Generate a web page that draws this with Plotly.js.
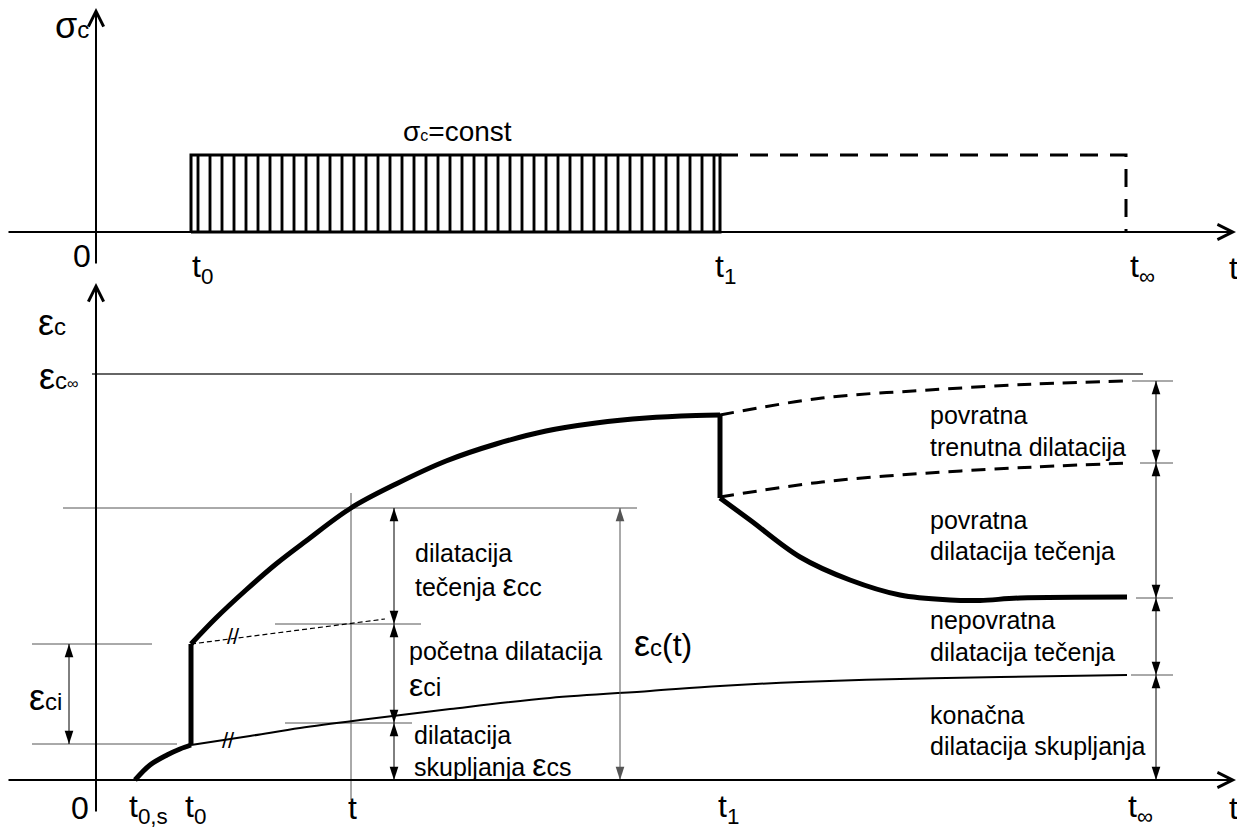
<!DOCTYPE html>
<html>
<head>
<meta charset="utf-8">
<script src="https://cdn.plot.ly/plotly-3.0.1.min.js"></script>
<style>html,body{margin:0;padding:0;background:#fff;overflow:hidden}#chart{width:1237px;height:831px}</style>
</head>
<body>
<div id="chart"></div>
<script>
// ---- time markers (arbitrary time units) ----
const t0s = 3.9, t0 = 9.5, tMark = 25.5, t1 = 62.4, tInf = 103.0;
// ---- stress (top diagram) ----
const sigmaC = 7.7;
// ---- strain levels (bottom diagram) ----
const epsInf = 40.6;          // εc∞
const epsAtT = 27.2;          // εc(t)
const epsInitAtT = 15.6;      // shrinkage + initial strain at t
const epsShrAtT = 5.7;        // shrinkage at t
const epsCiTop = 13.6, epsCiBot = 3.6;
const rightLevels = [39.9, 31.7, 18.2, 10.5, 0];
// shrinkage before loading (thick)
const shr0T = [3.9, 5.4, 7.1, 8.4, 9.5];
const shr0E = [0, 1.5, 2.5, 3.1, 3.5];
// shrinkage after loading (thin)
const shrT = [9.5, 15.4, 20.4, 26.4, 35.4, 45.4, 55.4, 62.4, 70.4, 80.4, 90.4, 103.1];
const shrE = [3.5, 4.4, 5.2, 6.0, 7.1, 8.2, 8.9, 9.4, 9.8, 10.1, 10.3, 10.5];
// total strain under load (thick)
const creepT = [9.5, 12.0, 15.0, 18.0, 21.0, 25.5, 30.0, 35.0, 40.0, 45.0, 50.0, 55.0, 60.0, 62.4];
const creepE = [13.6, 16.2, 19.0, 21.6, 23.9, 27.2, 29.6, 31.9, 33.6, 34.9, 35.7, 36.2, 36.45, 36.5];
// after unloading (thick)
const recT = [62.4, 65.4, 70.4, 75.4, 80.4, 85.4, 88.4, 92.4, 103.1];
const recE = [28.2, 26.0, 22.3, 20.0, 18.5, 18.0, 17.95, 18.2, 18.3];
// hypothetical continuation under load (dashed)
const contT = [62.4, 72.6, 83.3, 93.9, 103.0];
const contE = [36.5, 38.2, 39.0, 39.6, 39.9];
// elastic recovery envelope (dashed)
const elT = [62.4, 72.6, 83.3, 93.9, 103.3];
const elE = [28.3, 29.8, 30.7, 31.3, 31.7];
// initial strain extension (thin dashed)
const initExtT = [9.5, 28.9];
const initExtE = [13.6, 16.1];

const F = 'Liberation Sans, Arial, sans-serif';
const GR = '#555';

function line(x, y, yaxis, w, color, dash, shape) {
  return {x: x, y: y, yaxis: yaxis, type: 'scatter', mode: 'lines', hoverinfo: 'skip',
    line: {width: w, color: color, dash: dash || 'solid', shape: shape || 'linear', smoothing: 1}};
}

const traces = [];
// top: loaded period with vertical hatching
traces.push({x: [t0, t0, t1, t1, t0], y: [0, sigmaC, sigmaC, 0, 0], yaxis: 'y2', type: 'scatter', mode: 'lines',
  fill: 'toself', fillcolor: 'white', hoverinfo: 'skip',
  fillpattern: {shape: '|', size: 12, solidity: 0.24, fgcolor: '#000', bgcolor: '#fff'},
  line: {width: 3, color: '#000'}});
traces.push(line([t1, tInf, tInf], [sigmaC, sigmaC, 0], 'y2', 3, '#000', '18px,12px'));

// bottom: guide lines
traces.push(line([-0.4, 104.7], [epsInf, epsInf], 'y', 1.3, '#333'));
traces.push(line([-3.3, 54.1], [epsAtT, epsAtT], 'y', 1, GR));
traces.push(line([tMark, tMark], [-2.0, 28.7], 'y', 1, GR));
traces.push(line([17.9, 32.5], [epsInitAtT, epsInitAtT], 'y', 1, GR));
traces.push(line([18.9, 31.6], [epsShrAtT, epsShrAtT], 'y', 1, GR));
traces.push(line([-6.4, 5.6], [epsCiTop, epsCiTop], 'y', 1, GR));
traces.push(line([-6.4, 8.1], [epsCiBot, epsCiBot], 'y', 1, GR));
const tickStart = [103.6, 104.4, 104.0, 103.5];
for (let i = 0; i < 4; i++) traces.push(line([tickStart[i], 107.7], [rightLevels[i], rightLevels[i]], 'y', 1, GR));

// curves
traces.push(line(initExtT, initExtE, 'y', 1.2, '#000', '5px,3px'));
traces.push(line(contT, contE, 'y', 3, '#000', '14px,9px', 'spline'));
traces.push(line(elT, elE, 'y', 3, '#000', '14px,9px', 'spline'));
traces.push(line(shrT, shrE, 'y', 2, '#000', 'solid', 'spline'));
traces.push(line(shr0T, shr0E, 'y', 5, '#000', 'solid', 'spline'));
traces.push(line([t0, t0], [shr0E[shr0E.length - 1], creepE[0]], 'y', 5, '#000'));
traces.push(line(creepT, creepE, 'y', 5, '#000', 'solid', 'spline'));
traces.push(line([t1, t1], [creepE[creepE.length - 1], recE[0]], 'y', 5, '#000'));
traces.push(line(recT, recE, 'y', 5, '#000', 'solid', 'spline'));

// dimension arrows (double headed) as line + arrow markers
function dbl(x, yLow, yHigh, color) {
  const c = color || '#000';
  traces.push({x: [x, x], y: [yLow, yHigh], yaxis: 'y', type: 'scatter', mode: 'lines+markers', hoverinfo: 'skip',
    line: {width: 1, color: c},
    marker: {symbol: 'arrow', size: 14, angle: [180, 0], color: c, line: {width: 0}}});
}
dbl(-2.7, epsCiBot, epsCiTop);
dbl(29.8, epsInitAtT, epsAtT);
dbl(29.8, epsShrAtT, epsInitAtT);
dbl(29.8, 0, epsShrAtT);
dbl(52.4, 0, epsAtT, GR);
for (let i = 0; i < 4; i++) dbl(106.0, rightLevels[i + 1], rightLevels[i]);

const ann = [];
function axisArrow(yref, x0, y0, x1, y1) {
  ann.push({xref: 'x', yref: yref, axref: 'x', ayref: yref, x: x1, y: y1, ax: x0, ay: y0,
    text: '', showarrow: true, arrowhead: 5, arrowsize: 1.5, arrowwidth: 2, arrowcolor: '#000', standoff: 0});
}
axisArrow('y2', -8.9, 0, 114.0, 0);
axisArrow('y2', 0, -3.3, 0, 22.4);
axisArrow('y', -8.9, 0, 114.0, 0);
axisArrow('y', 0, -3.3, 0, 49.7);

function txt(yref, x, y, text, size, xanchor) {
  ann.push({xref: 'x', yref: yref, x: x, y: y, text: text, showarrow: false,
    xanchor: xanchor || 'left', yanchor: 'middle', font: {family: F, size: size, color: '#000'}});
}
const s = (v, px) => '<span style="font-size:' + px + 'px">' + v + '</span>';
// top labels
txt('y2', -0.5, 20.7, 'σ' + s('c', 24), 36, 'right');
txt('y2', 36.1, 10.1, s('σ', 28) + s('c', 16) + '=const', 28, 'center');
txt('y2', -0.3, -2.4, '0', 32, 'right');
txt('y2', 9.4, -3.6, 't<sub>0</sub>', 32);
txt('y2', 61.7, -3.6, 't<sub>1</sub>', 32);
txt('y2', 103.2, -3.6, 't<sub>∞</sub>', 32);
txt('y2', 113.1, -3.6, 't', 32);
// bottom axis labels
txt('y', -2.8, 45.8, 'ε' + s('c', 24), 36, 'right');
txt('y', -1.6, 40.4, 'ε' + s('c', 24) + s('∞', 16), 36, 'right');
txt('y', -6.9, 8.3, 'ε' + s('ci', 24), 36);
const yb = -2.8;
txt('y', -0.5, yb, '0', 32, 'right');
txt('y', 3.1, yb, 't<sub>0,s</sub>', 32);
txt('y', 8.7, yb, 't<sub>0</sub>', 32);
txt('y', 25.6, yb, 't', 32, 'center');
txt('y', 62.0, yb, 't<sub>1</sub>', 32);
txt('y', 103.0, yb, 't<sub>∞</sub>', 32);
txt('y', 113.1, yb, 't', 32);
// middle texts
txt('y', 31.7, 22.7, 'dilatacija', 25);
txt('y', 31.7, 19.5, 'tečenja ' + s('ε', 32) + 'cc', 25);
txt('y', 31.1, 12.9, 'početna dilatacija', 25);
txt('y', 31.1, 9.5, s('ε', 32) + 'ci', 25);
txt('y', 31.6, 4.5, 'dilatacija', 25);
txt('y', 31.6, 1.5, 'skupljanja ' + s('ε', 32) + 'cs', 25);
txt('y', 53.6, 13.7, s('ε', 36) + s('c', 24) + '(t)', 32);
// right texts
const rX = 83.2;
txt('y', rX, 36.5, 'povratna', 25);
txt('y', rX, 33.3, 'trenutna dilatacija', 25);
txt('y', rX, 26.0, 'povratna', 25);
txt('y', rX, 22.9, 'dilatacija tečenja', 25);
txt('y', rX, 16.0, 'nepovratna', 25);
txt('y', rX, 12.8, 'dilatacija tečenja', 25);
txt('y', rX, 6.5, 'konačna', 25);
txt('y', rX, 3.4, 'dilatacija skupljanja', 25);
// break marks
txt('y', 13.7, 14.4, '//', 22, 'center');
txt('y', 13.2, 4.0, '//', 22, 'center');

const layout = {
  width: 1237, height: 831, margin: {l: 0, r: 0, t: 0, b: 0},
  paper_bgcolor: '#fff', plot_bgcolor: '#fff', showlegend: false,
  xaxis: {range: [-9.6, 114.1], visible: false, fixedrange: true},
  yaxis: {range: [-5.1, 78.0], visible: false, fixedrange: true},
  yaxis2: {range: [-59.9, 23.2], visible: false, overlaying: 'y', fixedrange: true},
  annotations: ann
};
Plotly.newPlot('chart', traces, layout, {staticPlot: true, displayModeBar: false});
</script>
</body>
</html>
